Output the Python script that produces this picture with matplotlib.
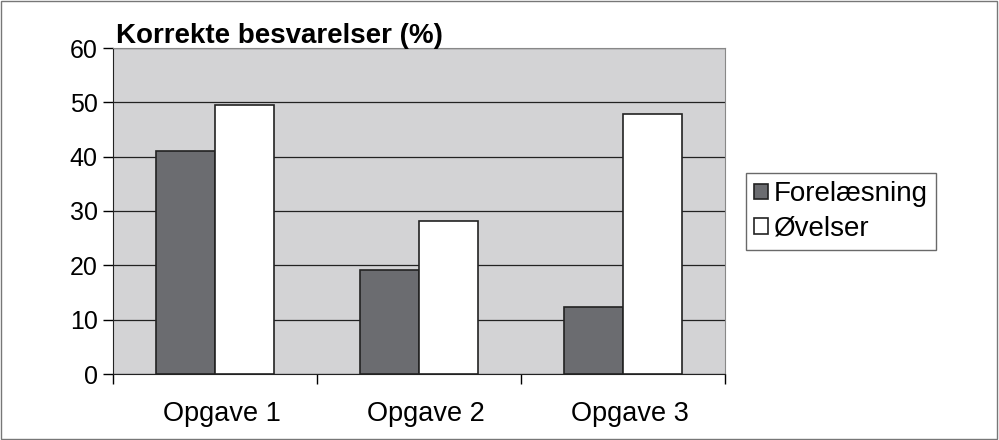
import matplotlib.pyplot as plt
import matplotlib.transforms as mtransforms
import numpy as np

plt.rcParams['font.family'] = ['Liberation Sans', 'DejaVu Sans']

kategorier = ['Opgave 1', 'Opgave 2', 'Opgave 3']
forelaesning = [41.0, 19.1, 12.3]
oevelser = [49.5, 28.2, 47.9]
y_ticks = [0, 10, 20, 30, 40, 50, 60]

fig = plt.figure(figsize=(9.99, 4.4), dpi=100)
ax = fig.add_axes([113 / 999, 1 - 374 / 440, 612 / 999, 326 / 440])

x = np.arange(len(kategorier))
w = 0.29
ax.bar(x - w / 2, forelaesning, w, color='#6b6c70', edgecolor='#222222',
       linewidth=1.2, label='Forelæsning', zorder=3)
ax.bar(x + w / 2, oevelser, w, color='white', edgecolor='#222222',
       linewidth=1.2, label='Øvelser', zorder=3)

ax.set_facecolor('#d3d3d5')
ax.set_xlim(-0.5, 2.5)
ax.set_ylim(0, 60)
ax.set_yticks(y_ticks)
ax.yaxis.grid(True, color='#222222', linewidth=0.9, zorder=1)
ax.set_axisbelow(True)

# kategori-labels i midten, tick-streger mellem grupperne
ax.set_xticks(x)
ax.set_xticklabels(kategorier, fontsize=19.5)
ax.tick_params(axis='x', which='major', length=0, pad=19.5)
ax.set_xticks([-0.5, 0.5, 1.5, 2.5], minor=True)
ax.tick_params(axis='x', which='minor', length=7, width=1, direction='out')
ax.tick_params(axis='y', labelsize=18, length=7, width=1, direction='out', pad=4)

# labels sidder lidt til hoejre i originalen
skub = mtransforms.ScaledTranslation(7 / 100, 0, fig.dpi_scale_trans)
for lbl in ax.get_xticklabels():
    lbl.set_transform(lbl.get_transform() + skub)

for s in ['top', 'right']:
    ax.spines[s].set_color('#888888')
for s in ['left', 'bottom']:
    ax.spines[s].set_color('#222222')

fig.text(116 / 999, 1 - 43 / 440, 'Korrekte besvarelser (%)', fontsize=20,
         fontweight='bold', va='baseline', ha='left')

leg = fig.legend(loc='upper left', bbox_to_anchor=(746 / 999, 1 - 173 / 440),
                 fontsize=20, frameon=True, fancybox=False, edgecolor='#444444',
                 handlelength=0.5, handleheight=0.5, handletextpad=0.2,
                 borderpad=0.3, labelspacing=0.3, borderaxespad=0)
leg.get_frame().set_linewidth(1)

# ramme rundt om hele figuren
fig.patches.append(plt.Rectangle((0.001, 0.002), 0.997, 0.996, transform=fig.transFigure,
                                 fill=False, edgecolor='#777777', linewidth=1))

fig.savefig('out.png', dpi=100)
